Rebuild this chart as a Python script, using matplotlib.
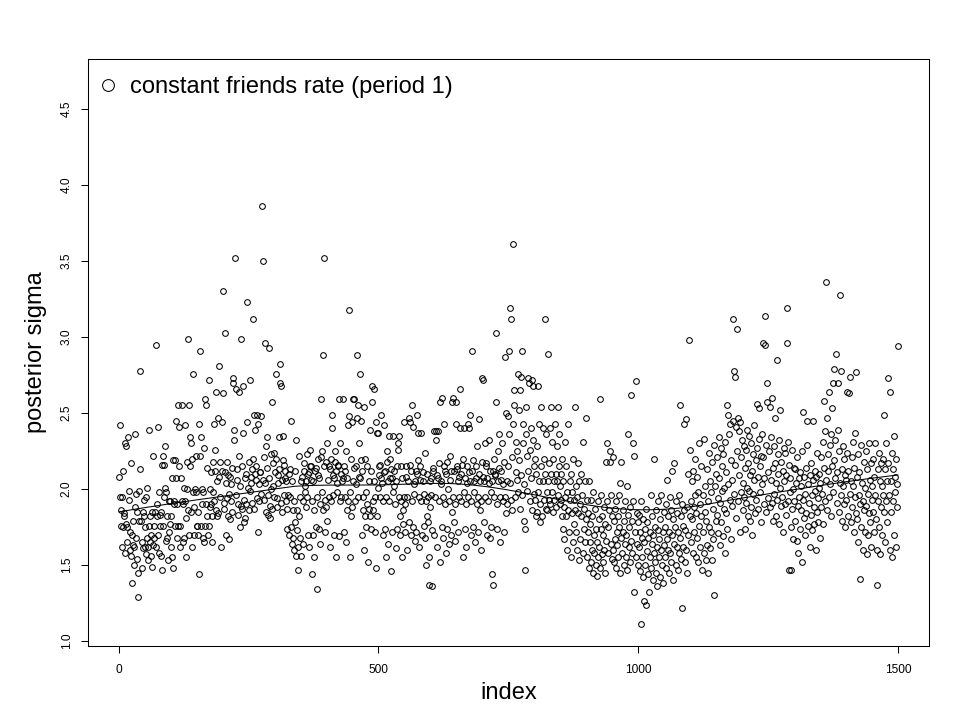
import numpy as np
import matplotlib
matplotlib.use("Agg")
import matplotlib.pyplot as plt
from matplotlib.lines import Line2D

plt.rcParams['font.family'] = ['Liberation Sans', 'DejaVu Sans']

# ---- data (in blocks of 50 indices) ----
sigma_0000 = [2.08, 1.95, 2.42, 1.86, 1.76, 1.95, 1.62, 2.12, 1.75, 1.84,
              1.82, 2.30, 1.58, 2.28, 1.77, 1.65, 1.75, 2.34, 1.93, 1.99,
              1.60, 1.72, 2.17, 1.56, 1.38, 1.70, 1.63, 1.79, 1.50, 1.62,
              1.88, 2.36, 1.68, 1.97, 1.54, 1.85, 1.29, 1.45, 1.99, 1.79,
              2.78, 2.13, 1.79, 1.65, 1.48, 1.61, 1.85, 1.93, 1.82, 1.75]
sigma_0050 = [1.62, 1.57, 1.95, 1.68, 2.01, 1.53, 1.62, 2.39, 1.76, 1.65,
              1.82, 1.56, 1.70, 1.49, 1.85, 2.22, 1.63, 1.68, 1.76, 1.85,
              1.62, 2.95, 1.90, 1.82, 2.41, 1.70, 1.98, 1.58, 1.83, 1.76,
              1.85, 1.56, 2.16, 1.47, 1.76, 2.22, 1.95, 2.16, 2.01, 2.28,
              1.98, 1.66, 1.82, 1.68, 1.53, 1.92, 1.72, 1.92, 1.77, 1.62]
sigma_0100 = [1.82, 1.55, 2.07, 2.19, 1.48, 1.90, 1.92, 2.19, 1.76, 2.45,
              2.07, 1.68, 1.90, 1.76, 2.55, 2.41, 2.15, 1.76, 1.62, 2.07,
              1.92, 2.55, 1.90, 1.65, 1.68, 2.01, 1.92, 2.42, 1.81, 1.55,
              2.18, 2.00, 1.86, 2.99, 1.70, 2.55, 2.15, 2.34, 1.85, 2.30,
              2.20, 1.62, 1.98, 2.76, 1.70, 1.88, 2.00, 1.98, 2.22, 1.76]
sigma_0150 = [1.76, 1.85, 1.70, 2.43, 1.44, 2.22, 2.91, 1.76, 2.34, 1.90,
              2.00, 1.68, 1.98, 2.27, 1.65, 1.76, 2.59, 2.55, 1.90, 1.82,
              2.14, 1.70, 2.72, 1.76, 2.00, 1.88, 2.11, 1.90, 1.65, 1.82,
              1.98, 2.18, 1.92, 2.43, 2.12, 2.26, 1.86, 2.64, 1.82, 2.05,
              2.47, 1.84, 2.08, 2.81, 2.18, 1.95, 1.62, 2.44, 2.12, 2.63]
sigma_0200 = [3.30, 1.91, 1.87, 2.11, 3.03, 1.70, 2.04, 1.94, 2.18, 1.82,
              2.09, 1.97, 1.67, 2.08, 1.80, 1.92, 2.03, 2.14, 1.85, 2.73,
              2.70, 2.32, 2.39, 3.52, 2.66, 1.96, 2.06, 2.13, 1.83, 1.90,
              2.64, 2.22, 1.75, 2.02, 1.89, 2.99, 2.15, 1.87, 2.68, 2.37,
              1.78, 1.93, 2.07, 1.81, 2.10, 1.90, 2.44, 3.23, 2.01, 1.86]
sigma_0250 = [2.18, 1.99, 2.72, 2.04, 2.08, 1.91, 2.13, 2.20, 3.12, 2.49,
              1.87, 2.10, 2.39, 2.15, 2.06, 1.94, 2.49, 2.43, 1.72, 2.03,
              1.92, 2.11, 2.11, 2.48, 1.97, 3.86, 3.50, 2.06, 1.93, 2.21,
              2.96, 2.04, 2.28, 1.85, 2.34, 2.14, 1.96, 1.83, 2.07, 2.93,
              1.89, 1.81, 2.23, 2.00, 2.57, 1.87, 2.17, 2.02, 2.24, 1.95]
sigma_0300 = [2.11, 2.76, 2.20, 1.94, 1.88, 2.04, 2.09, 2.13, 2.34, 2.70,
              2.82, 2.68, 1.91, 2.06, 1.85, 2.35, 2.19, 1.96, 2.16, 2.12,
              2.07, 1.92, 2.05, 1.74, 1.87, 1.96, 2.10, 1.70, 2.13, 1.95,
              2.45, 1.75, 1.64, 2.05, 1.86, 1.68, 1.92, 1.60, 1.78, 2.12,
              1.56, 2.32, 1.73, 1.86, 1.62, 1.47, 1.82, 2.22, 1.95, 1.68]
sigma_0350 = [2.05, 1.56, 2.08, 1.92, 1.64, 2.12, 2.17, 1.98, 2.02, 2.05,
              1.88, 2.23, 1.95, 1.70, 2.10, 2.11, 1.62, 2.15, 2.26, 2.15,
              2.06, 1.44, 1.92, 2.05, 1.70, 1.86, 1.55, 2.12, 2.14, 1.75,
              1.95, 1.34, 2.20, 2.09, 1.74, 2.07, 1.64, 1.90, 2.21, 2.59,
              1.98, 2.25, 1.86, 2.88, 2.15, 3.52, 1.93, 1.72, 2.18, 1.88]
sigma_0400 = [1.79, 2.30, 2.06, 1.95, 2.15, 2.13, 1.62, 2.20, 1.92, 2.49,
              2.40, 2.09, 1.96, 2.07, 1.70, 2.25, 2.18, 1.55, 2.12, 1.98,
              2.04, 2.15, 2.16, 1.69, 2.59, 1.92, 2.30, 2.10, 1.95, 2.05,
              2.59, 2.07, 2.15, 1.72, 1.95, 2.12, 2.25, 1.65, 2.07, 1.86,
              1.92, 2.42, 2.48, 3.18, 1.98, 1.55, 1.82, 2.20, 2.44, 1.88]
sigma_0450 = [2.05, 2.59, 2.14, 2.59, 1.92, 2.15, 2.03, 2.47, 2.88, 1.95,
              2.55, 2.08, 2.30, 2.07, 2.76, 2.45, 2.19, 1.70, 2.12, 1.86,
              1.95, 1.60, 2.54, 2.20, 1.82, 1.98, 1.75, 2.15, 1.90, 1.52,
              1.87, 2.05, 2.39, 1.82, 1.74, 2.12, 2.57, 2.68, 1.92, 1.86,
              2.05, 2.66, 1.72, 1.95, 1.48, 2.44, 2.37, 1.82, 2.37, 2.01]
sigma_0500 = [2.09, 2.15, 2.16, 1.95, 2.07, 2.49, 2.04, 1.70, 1.92, 2.42,
              2.11, 1.74, 2.12, 1.55, 1.95, 2.25, 2.18, 1.64, 2.05, 2.35,
              1.92, 2.07, 2.20, 2.13, 1.46, 1.72, 2.07, 2.35, 1.98, 2.02,
              2.12, 1.90, 1.61, 2.05, 2.15, 1.74, 2.30, 2.26, 1.95, 2.35,
              1.82, 1.70, 2.15, 1.92, 1.55, 2.07, 1.86, 1.77, 2.44, 1.95]
sigma_0550 = [1.90, 1.72, 2.15, 2.08, 1.60, 1.95, 2.05, 2.47, 1.78, 2.44,
              2.16, 1.70, 2.12, 2.55, 1.92, 1.75, 2.41, 2.03, 1.97, 1.66,
              2.05, 2.12, 1.72, 2.10, 2.49, 2.37, 2.19, 1.95, 1.62, 2.15,
              2.06, 1.92, 2.37, 1.70, 2.05, 2.11, 1.76, 1.97, 2.24, 1.68,
              1.92, 1.50, 2.10, 1.82, 1.78, 1.95, 1.55, 1.37, 1.88, 2.05]
sigma_0600 = [2.07, 1.96, 1.73, 1.36, 2.12, 2.14, 2.38, 1.70, 1.95, 2.32,
              2.38, 2.09, 1.62, 2.07, 2.38, 2.17, 1.92, 1.52, 2.57, 2.03,
              2.05, 2.60, 1.75, 1.95, 1.68, 2.43, 2.15, 2.12, 1.90, 1.58,
              2.10, 2.18, 1.74, 2.00, 1.92, 1.64, 2.22, 2.06, 1.70, 2.12,
              2.57, 1.85, 2.60, 1.95, 1.78, 2.12, 1.90, 1.66, 2.43, 2.57]
sigma_0650 = [2.13, 2.15, 1.72, 2.05, 1.95, 2.08, 2.40, 2.66, 1.92, 2.10,
              2.16, 1.55, 2.20, 2.40, 1.98, 1.74, 2.07, 1.90, 1.62, 2.15,
              2.04, 1.95, 2.43, 2.11, 2.40, 2.49, 2.05, 1.70, 1.92, 2.12,
              2.91, 2.19, 1.75, 2.05, 1.98, 1.65, 2.15, 2.07, 1.90, 2.28,
              1.95, 1.72, 2.10, 2.46, 1.86, 2.05, 1.60, 1.92, 2.18, 2.73]
sigma_0700 = [2.72, 2.08, 2.05, 1.78, 2.30, 1.95, 2.17, 2.15, 1.70, 2.07,
              1.92, 2.32, 2.04, 1.68, 2.12, 1.98, 1.75, 1.44, 2.05, 2.12,
              1.37, 2.20, 1.95, 2.09, 2.10, 2.57, 3.03, 1.90, 1.74, 2.25,
              2.05, 2.14, 2.36, 1.65, 1.95, 2.12, 2.06, 2.30, 1.92, 2.03,
              1.72, 2.18, 2.87, 1.95, 2.50, 1.84, 2.05, 1.90, 2.48, 2.15]
sigma_0750 = [2.91, 2.36, 3.19, 2.04, 1.93, 3.12, 2.21, 1.86, 2.43, 3.61,
              2.55, 2.65, 1.95, 2.31, 2.11, 2.06, 2.25, 2.76, 1.98, 2.19,
              2.52, 2.65, 1.87, 2.74, 2.09, 2.91, 1.96, 2.43, 2.30, 2.03,
              1.79, 1.74, 1.47, 2.36, 2.54, 2.22, 1.99, 2.73, 2.12, 2.70,
              1.92, 2.26, 2.40, 2.07, 2.72, 1.86, 2.32, 2.68, 2.15, 1.97]
sigma_0800 = [2.20, 1.93, 1.82, 2.10, 1.85, 2.28, 2.68, 1.98, 2.43, 2.05,
              1.90, 1.78, 2.54, 2.15, 1.82, 2.40, 2.05, 1.93, 2.20, 3.12,
              2.10, 1.87, 2.36, 1.98, 1.86, 2.89, 2.05, 1.93, 2.17, 2.40,
              1.90, 2.54, 2.10, 1.98, 2.31, 1.85, 2.20, 2.05, 1.93, 2.43,
              2.10, 1.88, 2.28, 2.05, 2.54, 1.96, 2.15, 2.36, 1.90, 2.02]
sigma_0850 = [1.93, 2.10, 1.82, 2.20, 1.74, 2.05, 1.88, 1.67, 2.31, 1.95,
              1.82, 2.15, 1.60, 1.98, 2.43, 1.86, 1.72, 2.05, 1.93, 1.55,
              2.10, 1.84, 1.98, 1.65, 2.20, 1.93, 1.77, 2.54, 1.86, 2.02,
              1.72, 1.95, 1.60, 2.17, 1.84, 1.53, 2.05, 1.90, 1.67, 2.10,
              1.82, 1.96, 1.58, 2.31, 1.74, 1.87, 2.05, 1.65, 2.47, 1.80]
sigma_0900 = [1.55, 1.93, 1.72, 1.84, 1.48, 2.05, 1.65, 1.77, 1.52, 1.93,
              1.60, 1.82, 1.45, 1.98, 1.70, 1.58, 1.87, 1.50, 1.74, 1.43,
              1.65, 1.92, 1.55, 1.80, 1.62, 2.59, 1.48, 1.74, 1.96, 1.57,
              1.82, 1.52, 1.70, 1.88, 1.60, 1.77, 1.45, 2.18, 1.66, 1.92,
              2.30, 1.58, 1.75, 1.86, 2.18, 2.25, 1.64, 1.96, 1.54, 1.82]
sigma_0950 = [2.21, 1.60, 1.79, 1.52, 1.87, 1.67, 1.92, 1.48, 1.72, 1.63,
              1.82, 1.55, 1.75, 1.96, 1.45, 2.04, 1.68, 2.18, 1.58, 1.86,
              1.72, 1.50, 1.79, 1.64, 1.92, 1.55, 1.70, 2.02, 1.47, 1.83,
              2.36, 1.62, 1.75, 1.52, 1.88, 2.62, 1.66, 1.79, 1.58, 1.92,
              2.30, 1.32, 2.22, 1.72, 2.71, 1.55, 1.84, 1.64, 1.78, 1.50]
sigma_1000 = [1.62, 1.83, 1.46, 1.72, 1.11, 1.92, 1.55, 1.68, 1.42, 1.80,
              1.26, 1.65, 1.74, 1.50, 1.87, 1.24, 1.59, 1.78, 1.44, 1.68,
              1.32, 1.72, 1.55, 1.96, 1.48, 1.64, 1.82, 1.40, 1.70, 1.58,
              2.20, 1.52, 1.75, 1.45, 1.86, 1.62, 1.36, 1.73, 1.92, 1.55,
              1.67, 1.80, 1.42, 1.60, 1.96, 1.50, 1.72, 1.38, 1.85, 1.63]
sigma_1050 = [1.55, 1.75, 1.90, 1.48, 1.67, 2.06, 1.60, 1.82, 1.45, 1.72,
              1.95, 1.58, 1.86, 1.52, 2.12, 1.70, 1.40, 1.80, 1.64, 2.17,
              1.75, 1.50, 1.92, 1.62, 1.84, 1.47, 1.72, 1.96, 1.58, 2.55,
              1.68, 1.82, 1.54, 1.90, 1.22, 1.76, 1.62, 2.43, 1.86, 1.52,
              1.73, 2.46, 1.60, 1.88, 1.45, 2.10, 1.70, 2.98, 1.82, 2.26]
sigma_1100 = [1.92, 1.65, 2.05, 1.80, 1.58, 2.12, 1.88, 1.72, 2.20, 1.96,
              1.55, 1.84, 2.08, 1.68, 1.98, 1.52, 2.30, 1.76, 1.90, 1.62,
              2.15, 1.82, 1.47, 1.96, 1.72, 2.33, 1.58, 2.02, 1.85, 1.53,
              1.79, 2.13, 1.63, 1.92, 1.45, 2.24, 1.75, 2.05, 1.61, 1.98,
              1.72, 2.18, 1.53, 1.87, 1.67, 2.29, 1.30, 2.02, 1.79, 2.10]
sigma_1150 = [1.83, 2.21, 1.94, 1.71, 2.34, 2.07, 1.63, 1.91, 2.27, 1.78,
              2.15, 1.99, 1.69, 2.23, 1.87, 2.01, 1.58, 2.31, 1.84, 2.11,
              2.55, 1.74, 2.49, 2.03, 2.36, 1.93, 2.43, 1.67, 2.19, 2.06,
              1.89, 3.12, 2.45, 1.97, 2.78, 2.74, 2.16, 2.41, 1.81, 3.05,
              2.25, 2.47, 1.92, 2.38, 2.09, 1.72, 2.44, 2.21, 1.98, 2.32]
sigma_1200 = [2.04, 1.86, 2.28, 1.95, 2.14, 1.74, 2.26, 1.91, 2.39, 2.01,
              1.82, 2.17, 1.99, 2.35, 1.79, 2.09, 2.30, 1.88, 2.12, 1.70,
              2.23, 1.97, 2.42, 2.06, 1.84, 2.19, 1.93, 2.27, 2.56, 2.08,
              1.87, 2.33, 2.53, 1.98, 2.15, 2.22, 1.78, 2.36, 2.03, 2.96,
              2.21, 1.90, 2.07, 3.14, 2.95, 2.29, 1.85, 2.57, 2.70, 2.11]
sigma_1250 = [1.94, 2.25, 2.54, 1.88, 2.06, 2.34, 1.91, 2.60, 2.14, 1.79,
              2.28, 1.97, 2.17, 2.47, 1.82, 2.04, 2.85, 1.93, 2.23, 2.10,
              1.77, 2.32, 2.01, 2.52, 1.89, 2.18, 1.95, 2.12, 1.72, 2.27,
              2.05, 1.90, 2.24, 1.83, 2.09, 3.19, 2.96, 1.92, 2.31, 1.47,
              2.16, 1.98, 2.07, 1.75, 1.47, 2.26, 1.87, 2.00, 1.67, 2.14]
sigma_1300 = [1.92, 2.13, 1.79, 2.04, 1.66, 2.21, 1.89, 1.58, 2.07, 1.95,
              1.74, 2.11, 1.86, 2.02, 1.52, 2.25, 1.93, 2.51, 1.81, 2.08,
              1.70, 1.97, 2.14, 1.84, 2.29, 2.45, 1.76, 2.03, 1.91, 1.62,
              2.09, 1.83, 2.17, 1.96, 1.73, 2.06, 2.45, 1.88, 1.77, 2.12,
              1.99, 1.60, 2.08, 1.85, 2.24, 1.94, 1.78, 2.10, 2.01, 1.68]
sigma_1350 = [2.04, 1.88, 2.21, 1.97, 2.31, 1.77, 2.14, 2.58, 1.92, 2.38,
              2.06, 3.36, 2.47, 1.86, 2.23, 2.12, 1.95, 2.64, 2.29, 2.03,
              1.82, 2.36, 2.15, 2.53, 1.98, 2.70, 2.79, 2.19, 2.07, 2.32,
              2.89, 1.91, 2.11, 2.70, 2.39, 1.85, 2.25, 2.04, 3.28, 1.96,
              2.78, 2.13, 1.79, 2.28, 2.02, 1.90, 2.20, 1.75, 2.09, 2.06]
sigma_1400 = [1.93, 2.24, 2.64, 1.82, 2.12, 2.63, 1.97, 2.74, 2.05, 1.78,
              2.21, 1.88, 2.31, 2.02, 1.72, 2.14, 1.95, 2.37, 2.77, 1.84,
              2.08, 1.80, 2.23, 1.65, 1.96, 2.11, 1.41, 1.90, 2.29, 1.75,
              2.04, 1.92, 1.60, 2.18, 1.86, 2.01, 1.72, 2.25, 1.89, 1.57,
              2.13, 1.97, 1.70, 2.30, 1.84, 2.06, 1.78, 1.62, 2.17, 1.93]
sigma_1450 = [2.02, 1.85, 2.20, 1.72, 2.08, 1.96, 2.30, 1.80, 1.60, 1.37,
              2.13, 1.92, 1.75, 2.24, 2.05, 1.57, 2.17, 1.88, 2.02, 1.70,
              2.20, 1.96, 2.49, 1.85, 2.13, 1.65, 2.30, 1.92, 2.05, 1.78,
              2.73, 2.17, 1.96, 1.60, 2.64, 2.05, 1.85, 2.24, 1.55, 2.13,
              1.92, 2.35, 1.70, 2.08, 1.98, 1.62, 2.20, 1.88, 2.03, 2.94]

sigma = np.array(sigma_0000 + sigma_0050 + sigma_0100 + sigma_0150 + sigma_0200 +
                 sigma_0250 + sigma_0300 + sigma_0350 + sigma_0400 + sigma_0450 +
                 sigma_0500 + sigma_0550 + sigma_0600 + sigma_0650 + sigma_0700 +
                 sigma_0750 + sigma_0800 + sigma_0850 + sigma_0900 + sigma_0950 +
                 sigma_1000 + sigma_1050 + sigma_1100 + sigma_1150 + sigma_1200 +
                 sigma_1250 + sigma_1300 + sigma_1350 + sigma_1400 + sigma_1450)
index = np.arange(1, len(sigma) + 1)

legend_label = "constant friends rate (period 1)"
x_ticks = [0, 500, 1000, 1500]
y_ticks = [1.0, 1.5, 2.0, 2.5, 3.0, 3.5, 4.0, 4.5]


def lowess(x, y, f=2/3, iters=3):
    n = len(x)
    r = int(np.ceil(f * n))
    yest = np.zeros(n)
    rw = np.ones(n)
    for _ in range(iters + 1):
        for i in range(n):
            d = np.abs(x - x[i])
            h = np.sort(d)[r - 1]
            w = np.clip(d / h, 0, 1)
            w = (1 - w ** 3) ** 3 * rw
            sw = w.sum()
            mx = (w * x).sum() / sw
            my = (w * y).sum() / sw
            sxx = (w * (x - mx) ** 2).sum()
            sxy = (w * (x - mx) * (y - my)).sum()
            b = sxy / sxx if sxx > 0 else 0.0
            yest[i] = my + b * (x[i] - mx)
        res = y - yest
        s = np.median(np.abs(res))
        u = np.clip(res / (6 * s), -1, 1)
        rw = (1 - u ** 2) ** 2
    return yest


smooth = lowess(index.astype(float), sigma, f=0.45)

fig = plt.figure(figsize=(9.6, 7.2), dpi=100)
ax = fig.add_axes([88 / 960, (720 - 646) / 720, (929 - 88) / 960, (646 - 59) / 720])

ax.plot(index, sigma, linestyle='none', marker='o', markersize=4.1,
        markerfacecolor='none', markeredgecolor='black', markeredgewidth=0.75)
ax.plot(index, smooth, color='black', linewidth=0.75)

ax.set_xlim(-59, 1560)
ax.set_ylim(0.967, 4.83)
ax.set_xticks(x_ticks)
ax.set_xticklabels([str(t) for t in x_ticks])
ax.set_yticks(y_ticks)
ax.set_yticklabels(["%.1f" % t for t in y_ticks], rotation=90, va='center')

for sp in ax.spines.values():
    sp.set_linewidth(0.75)
ax.tick_params(axis='both', direction='out', length=5, width=0.75,
               labelsize=8.6, colors='black')
ax.tick_params(axis='x', pad=8)
ax.tick_params(axis='y', pad=6)

ax.set_xlabel("index", fontsize=17)
ax.set_ylabel("posterior sigma", fontsize=17)
ax.xaxis.set_label_coords(0.5, (646 - 693) / 587)
ax.xaxis.label.set_va('center')
ax.yaxis.set_label_coords((36 - 88) / 841, 0.5)
ax.yaxis.label.set_va('center')
ax.yaxis.label.set_ha('center')

handle = Line2D([], [], linestyle='none', marker='o', markersize=8.5,
                markerfacecolor='none', markeredgecolor='black', markeredgewidth=0.75)
ax.legend([handle], [legend_label], loc='center left',
          bbox_to_anchor=((96 - 88) / 841, (646 - 87) / 587),
          frameon=False, fontsize=17, handlelength=1.0, handletextpad=0.45,
          borderaxespad=0, borderpad=0)

fig.savefig("out.png", dpi=100)
